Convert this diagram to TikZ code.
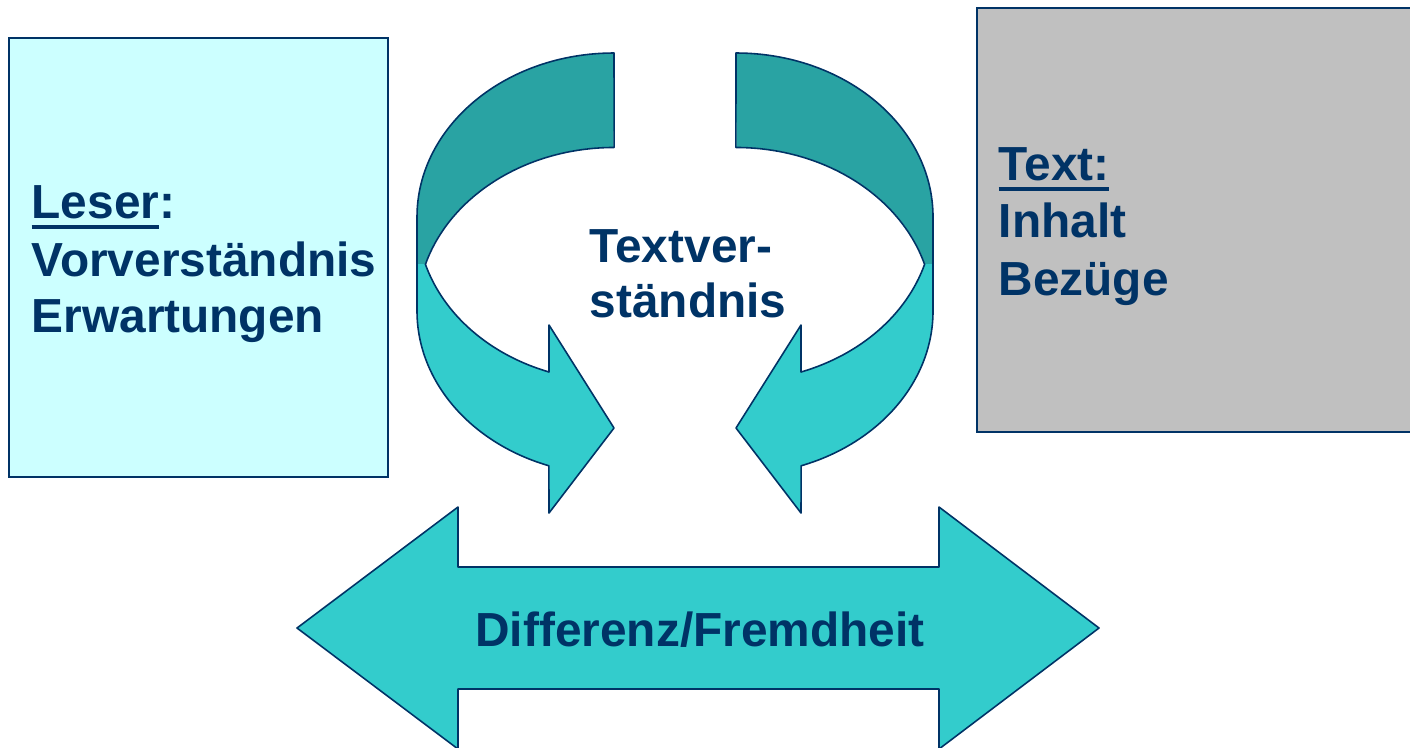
\documentclass[tikz,border=0pt]{standalone}
\usepackage{fontspec}
\setmainfont{Liberation Sans}
\definecolor{navy}{RGB}{0,51,102}
\definecolor{tealdark}{RGB}{41,163,163}
\definecolor{teallight}{RGB}{51,204,204}
\definecolor{paleCyan}{RGB}{204,255,255}
\definecolor{greybox}{RGB}{192,192,192}
% underline with a fixed offset below the baseline
\newcommand{\ulword}[1]{\setbox0\hbox{#1}\rlap{\rule[-3.1pt]{\wd0}{1pt}}\box0}
\tikzset{
  x=0.01cm, y=0.01cm,
  lbl/.style={font=\fontsize{13.6pt}{16pt}\selectfont\bfseries, text=navy,
              inner sep=0pt, anchor=base west},
  band/.style={draw=navy, line width=0.45pt, line join=round},
  rim/.style={draw=navy, line width=0.45pt, line join=round},
  boxframe/.style={draw=navy, line width=0.6pt},
  ell/.style={x radius=197, y radius=164},
}
\begin{document}
\begin{tikzpicture}
\useasboundingbox (0,0) rectangle (1410,747);
\clip (0,0) rectangle (1410,747);

% reader box
\draw[boxframe, fill=paleCyan] (9,709) rectangle (388,270);
\node[lbl] (leser) at (31,529) {\ulword{Leser}:};
\node[lbl] (vorv) at (31,471) {Vorverständnis};
\node[lbl] (erw) at (31,415) {Erwartungen};

% text box (runs past the right edge)
\draw[boxframe, fill=greybox] (977,739) rectangle (1420,315);
\node[lbl] (text) at (998,567) {\ulword{Text:}};
\node[lbl] (inhalt) at (998,510) {Inhalt};
\node[lbl] (bezuege) at (998,452) {Bezüge};

% ---- left curved arrow ----
% back band
\fill[tealdark] (614,694)
  arc[start angle=90, end angle=180, ell]
  -- (417,483) -- (425,483)
  arc[start angle=163.3, end angle=90, ell] -- cycle;
% front band with head
\fill[teallight] (425,483)
  arc[start angle=196.7, end angle=250.7, ell]
  -- (549,422) -- (614,319) -- (549,234) -- (549,281)
  arc[start angle=250.7, end angle=180, ell]
  -- (417,483) -- cycle;
% outline
\draw[rim] (614,694)
  arc[start angle=90, end angle=180, ell] -- (417,436)
  arc[start angle=180, end angle=250.7, ell]
  -- (549,234) -- (614,319) -- (549,422) -- (549,375)
  arc[start angle=250.7, end angle=196.7, ell]
  arc[start angle=163.3, end angle=90, ell] -- cycle;

% ---- right curved arrow ----
% back band
\fill[tealdark] (736,694)
  arc[start angle=90, end angle=0, ell]
  -- (933,483) -- (925,483)
  arc[start angle=16.7, end angle=90, ell] -- cycle;
% front band with head
\fill[teallight] (925,483)
  arc[start angle=-16.7, end angle=-70.7, ell]
  -- (801,422) -- (736,319) -- (801,234) -- (801,281)
  arc[start angle=-70.7, end angle=0, ell]
  -- (933,483) -- cycle;
% outline
\draw[rim] (736,694)
  arc[start angle=90, end angle=0, ell] -- (933,436)
  arc[start angle=0, end angle=-70.7, ell]
  -- (801,234) -- (736,319) -- (801,422) -- (801,375)
  arc[start angle=-70.7, end angle=-16.7, ell]
  arc[start angle=16.7, end angle=90, ell] -- cycle;

\node[lbl] (tv1) at (589,485) {Textver-};
\node[lbl] (tv2) at (589,430) {ständnis};

% double-headed arrow
\path[band, fill=teallight] (297,119) -- (458,240) -- (458,180) -- (939,180)
  -- (939,240) -- (1099,119) -- (939,-2) -- (939,58) -- (458,58) -- (458,-2)
  -- cycle;
\node[lbl, anchor=base] (diff) at (700,101) {Differenz/Fremdheit};
\end{tikzpicture}
\end{document}
